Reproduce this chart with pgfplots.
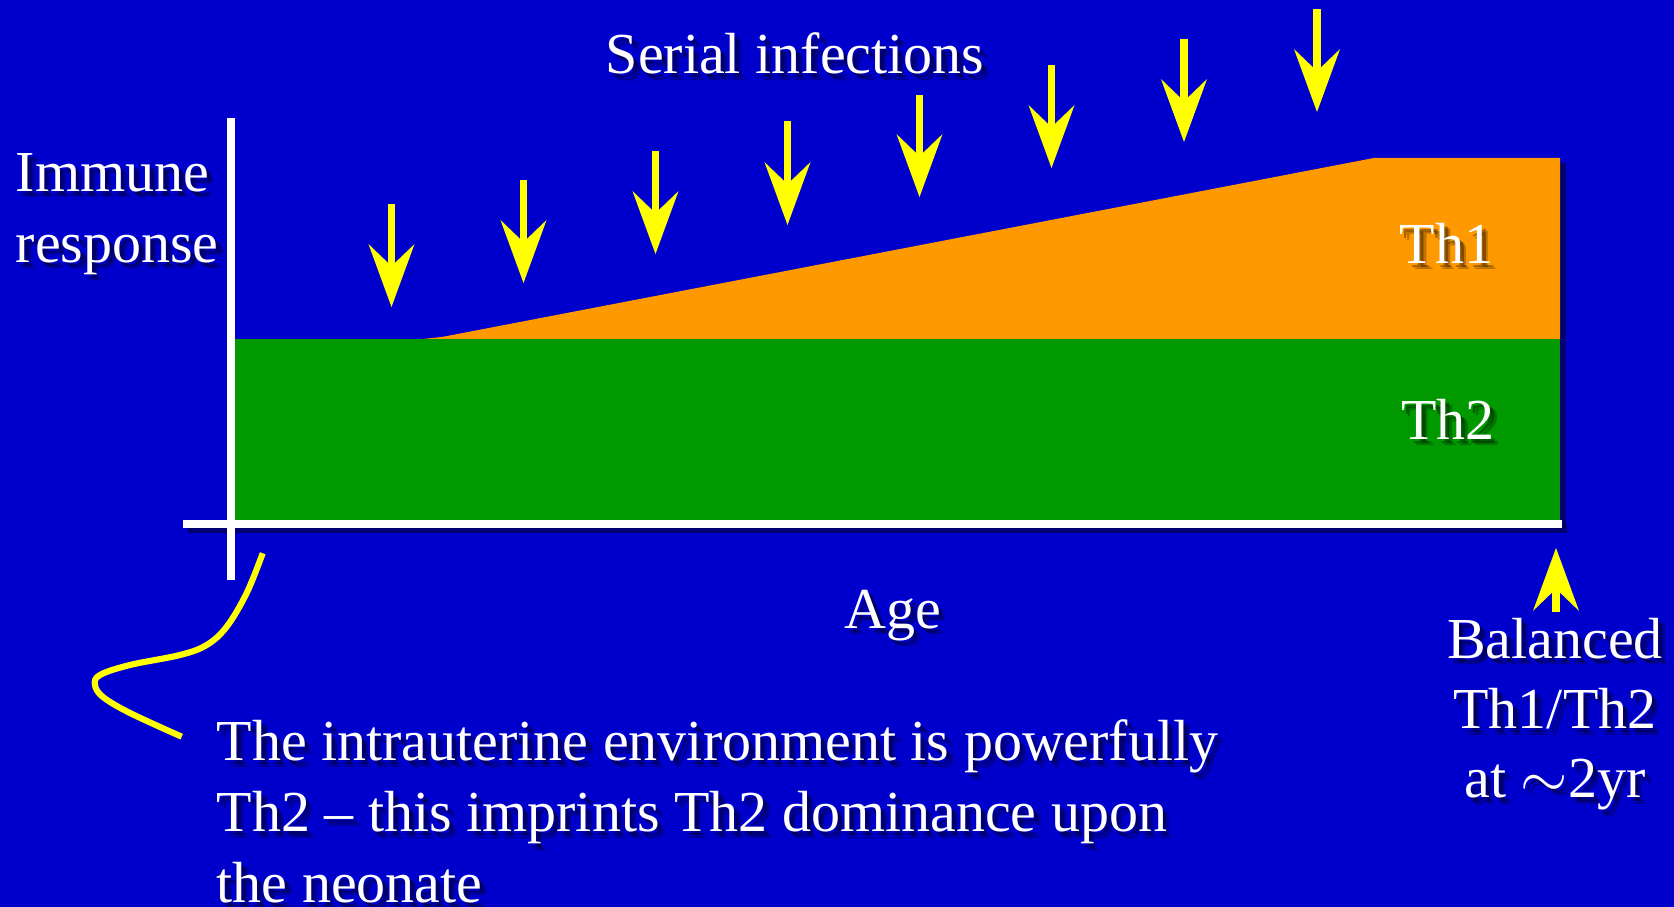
\documentclass[border=0pt]{standalone}
\usepackage{pgfplots}
\pgfplotsset{compat=1.18}
\usepackage{fontspec}
\setmainfont{Liberation Serif}
\usetikzlibrary{arrows.meta}
\definecolor{bgblue}{HTML}{0000CC}
\definecolor{thgreen}{HTML}{009900}
\definecolor{thorange}{HTML}{FF9900}
\definecolor{ylw}{HTML}{FFFF00}
\newcommand{\stxt}[4]{%
  \node[anchor=#1, inner sep=0pt, text=black, text opacity=0.25, xshift=1.8pt, yshift=-1.8pt] at (axis cs:#2,#3) {#4};
  \node[anchor=#1, inner sep=0pt, text=black, text opacity=0.35, xshift=1.1pt, yshift=-1.1pt] at (axis cs:#2,#3) {#4};
  \node[anchor=#1, inner sep=0pt, text=white] at (axis cs:#2,#3) {#4};
}
\begin{document}
\begin{tikzpicture}
\begin{axis}[
  at={(0,0)}, anchor=south west,
  scale only axis, width=16.74cm, height=9.07cm,
  xmin=0, xmax=1674, ymin=0, ymax=907,
  hide axis, clip=false,
  font=\fontsize{16.5}{20.2}\selectfont,
]
% background
\addplot[fill=bgblue, draw=none] coordinates {(0,0) (1674,0) (1674,907) (0,907)} -- cycle;
% shadows
\addplot[fill=black, fill opacity=0.45, draw=none] coordinates {(240,380) (1566,380) (1566,744) (1379,744) (447,565) (240,563)} -- cycle;
\addplot[black, opacity=0.45, line width=2.3pt] coordinates {(188,378) (1567,378)};
% Th2 (green) area
\addplot[fill=thgreen, draw=none] coordinates {(235,387) (1560,387) (1560,568) (235,568)} -- cycle;
% Th1 (orange) area
\addplot[fill=thorange, draw=none] coordinates {(423,568) (442,570) (1374,749) (1560,749) (1560,568)} -- cycle;
% axes lines
\addplot[white, line width=2.3pt] coordinates {(231,327) (231,789)};
\addplot[white, line width=2.3pt] coordinates {(183,383) (1562,383)};
% infection arrows
\addplot[ylw, line width=2.1pt,
  -{Stealth[length=17.9pt, width=13.1pt, inset=6.3pt, line width=0pt]},
  quiver={u=\thisrow{u}, v=\thisrow{v}}] table {
x y u v
391.5 703 0 -103
523.5 727 0 -103
655.5 756 0 -103
787.5 786 0 -104
919.5 812 0 -102
1051.5 842 0 -103
1184 868 0 -103
1317 898 0 -103
1556 295 0 64
};
% pointer curve
\addplot[ylw, line width=1.75pt, smooth, tension=0.6] coordinates {
(262.7,353.7) (246.7,314) (226.7,280.3) (206.7,262) (180,252) (130,242)
(100,232) (95,222) (103,210) (130,194) (181.7,170.3)};
% texts
\stxt{base}{795}{833}{Serial infections}
\stxt{base west}{15}{715.3}{Immune}
\stxt{base west}{15}{644.3}{response}
\stxt{base}{1446.5}{643.7}{Th1}
\stxt{base}{1448}{467.7}{Th2}
\stxt{base}{892.5}{278.7}{Age}
\stxt{base}{1555}{248.7}{Balanced}
\stxt{base}{1555}{178}{Th1/Th2}
\stxt{base}{1555}{109}{at $\sim$2yr}
\stxt{base west}{216}{146.3}{The intrauterine environment is powerfully}
\stxt{base west}{216}{75.3}{Th2 -- this imprints Th2 dominance upon}
\stxt{base west}{216}{4.5}{the neonate}
\end{axis}
\pgfresetboundingbox
\useasboundingbox (0,0) rectangle (16.74cm,9.07cm);
\end{tikzpicture}
\end{document}
